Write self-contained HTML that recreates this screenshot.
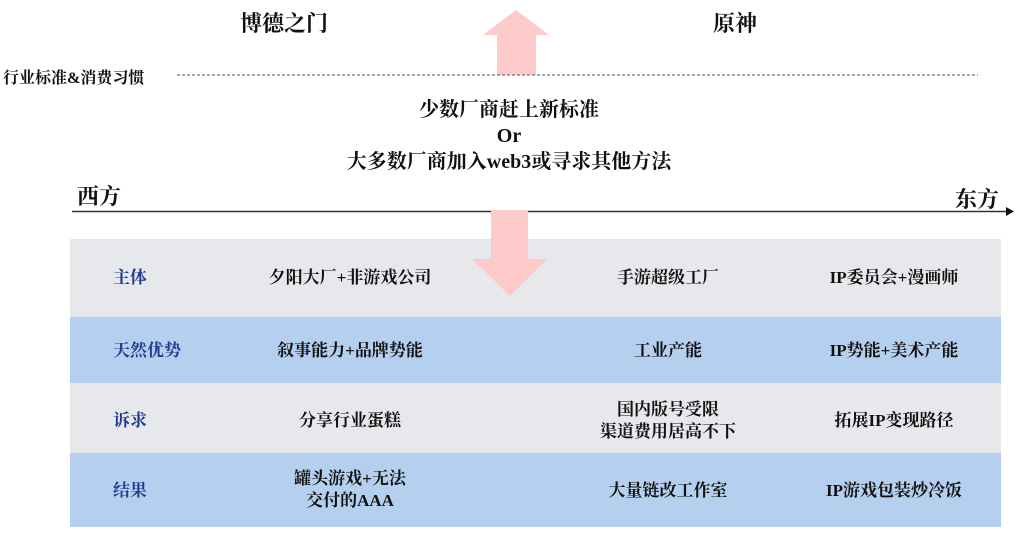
<!DOCTYPE html>
<html><head><meta charset="utf-8"><style>
body{margin:0;width:1018px;height:534px;background:#fff;position:relative;overflow:hidden;font-family:"Liberation Serif","Noto Serif CJK SC",serif;color:#111;font-weight:bold}
.t{position:absolute;white-space:nowrap}
.row{position:absolute;left:70px;width:931px}
.lab{position:absolute;color:#1f3a8f;font-size:17px;left:113px;line-height:22px}
.c{position:absolute;font-size:17px;text-align:center;line-height:22px;transform:translateX(-50%);white-space:nowrap}
</style></head><body>
<div class="row" style="top:239px;height:78px;background:#e6e8eb"></div>
<div class="row" style="top:317px;height:66px;background:#b5d0ee"></div>
<div class="row" style="top:383px;height:70px;background:#e6e8eb"></div>
<div class="row" style="top:453px;height:74px;background:#b5d0ee"></div>
<svg width="1018" height="534" style="position:absolute;left:0;top:0">
<polygon points="497,75 536,75 536,35 549,35 516,10 483,35 497,35" fill="#fdcaca"/>
<line x1="177" y1="75" x2="978" y2="75" stroke="#555" stroke-dasharray="3,2" stroke-width="1"/>
<line x1="72" y1="211.5" x2="1008" y2="211.5" stroke="#333" stroke-width="1.5"/>
<polygon points="1006,207 1014,211.5 1006,216" fill="#111"/>
<polygon points="491,210 528,210 528,259 547,259 510,296 472,259 491,259" fill="#fdcaca"/>
</svg>
<div class="t" style="left:240px;top:7px;font-size:22px">博德之门</div>
<div class="t" style="left:713px;top:7px;font-size:22px">原神</div>
<div class="t" style="left:3px;top:65px;font-size:16px">行业标准&amp;消费习惯</div>
<div class="t" style="left:0;width:1018px;text-align:center;top:97px;font-size:20px;line-height:26px">少数厂商赶上新标准<br>Or<br>大多数厂商加入web3或寻求其他方法</div>
<div class="t" style="left:77px;top:180px;font-size:22px">西方</div>
<div class="t" style="left:955px;top:183px;font-size:22px">东方</div>
<div class="lab" style="top:267px">主体</div>
<div class="lab" style="top:340px">天然优势</div>
<div class="lab" style="top:410px">诉求</div>
<div class="lab" style="top:480px">结果</div>
<div class="c" style="left:350px;top:267px">夕阳大厂+非游戏公司</div>
<div class="c" style="left:350px;top:340px">叙事能力+品牌势能</div>
<div class="c" style="left:350px;top:410px">分享行业蛋糕</div>
<div class="c" style="left:350px;top:468px">罐头游戏+无法<br>交付的AAA</div>
<div class="c" style="left:668px;top:267px">手游超级工厂</div>
<div class="c" style="left:668px;top:340px">工业产能</div>
<div class="c" style="left:668px;top:399px">国内版号受限<br>渠道费用居高不下</div>
<div class="c" style="left:668px;top:480px">大量链改工作室</div>
<div class="c" style="left:894px;top:267px">IP委员会+漫画师</div>
<div class="c" style="left:894px;top:340px">IP势能+美术产能</div>
<div class="c" style="left:894px;top:410px">拓展IP变现路径</div>
<div class="c" style="left:894px;top:480px">IP游戏包装炒冷饭</div>
</body></html>
